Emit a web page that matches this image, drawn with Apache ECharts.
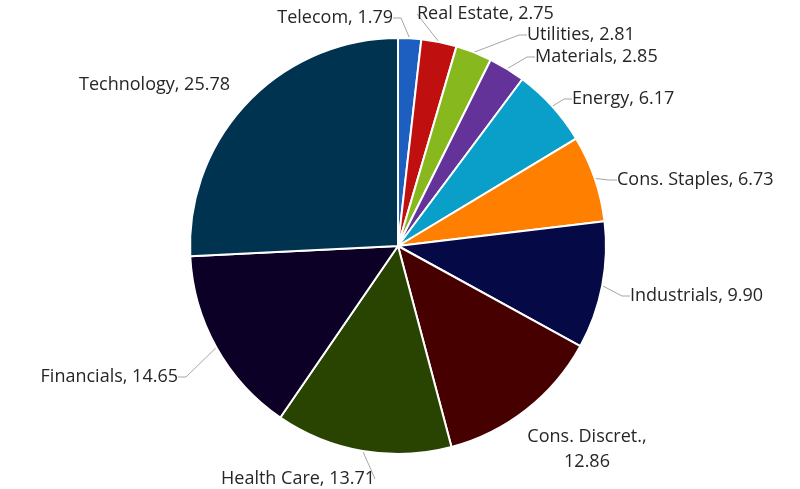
<!DOCTYPE html>
<html><head><meta charset="utf-8">
<script src="https://cdn.jsdelivr.net/npm/echarts@6/dist/echarts.min.js"></script>
<style>html,body{margin:0;padding:0;background:#fff}#c{width:800px;height:489px}</style>
</head><body><div id="c"></div>
<script>
const categories = ["Telecom","Real Estate","Utilities","Materials","Energy","Cons. Staples","Industrials","Cons. Discret.","Health Care","Financials","Technology"];
const values = [1.79,2.75,2.81,2.85,6.17,6.73,9.90,12.86,13.71,14.65,25.78];
const colors = ["#1c5fc0","#c00f0f","#87b81e","#64339a","#0a9fc8","#ff8000","#050a47","#470000","#284400","#0d0026","#003350"];
const noLeader = ["Cons. Discret.","Technology"];

// label placement (x, y centre, alignment) mimicking the reference layout
const labelPlace = [
  [393,18,'right'],[417,14,'left'],[527,35,'left'],[535,57,'left'],[572,99,'left'],
  [617,180,'left'],[630,296,'left'],[587,449,'center'],[221,479,'left'],[178,377,'right'],[230,85,'right']
];

const chart = echarts.init(document.getElementById('c'));
chart.setOption({
  animation:false,
  series:[{
    type:'pie',
    center:[398,246],
    radius:[0,208],
    startAngle:90,
    clockwise:true,
    data:categories.map((n,i)=>({name:n,value:values[i],itemStyle:{color:colors[i]},
      labelLine:{show:noLeader.indexOf(n)<0}})),
    itemStyle:{borderColor:'#fff',borderWidth:2},
    label:{
      show:true,
      fontFamily:'Open Sans',
      fontSize:18,
      color:'#262626',
      lineHeight:25,
      formatter:p=> p.name==='Cons. Discret.' ? p.name+',\n'+p.value.toFixed(2) : p.name+', '+p.value.toFixed(2),
      align:'center'
    },
    labelLine:{show:true,length:8,length2:8,lineStyle:{color:'#a6a6a6',width:1}},
    labelLayout:function(p){
      const lp = labelPlace[p.dataIndex];
      return {x:lp[0], y:lp[1], align:lp[2], verticalAlign:'middle'};
    }
  }]
});
</script></body></html>
